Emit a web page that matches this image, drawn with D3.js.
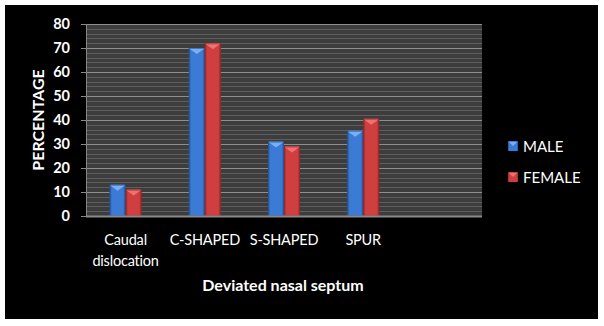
<!DOCTYPE html>
<html><head><meta charset="utf-8">
<script src="https://cdn.jsdelivr.net/npm/d3@7/dist/d3.min.js"></script>
<style>html,body{margin:0;padding:0;background:#fff;}svg{display:block;}</style>
</head><body>
<script>
const categories = ["Caudal\ndislocation", "C-SHAPED", "S-SHAPED", "SPUR", ""];
const seriesNames = ["MALE", "FEMALE"];
const maleValues = [13, 70, 31, 35.5, null];
const femaleValues = [11, 72, 29, 40.5, null];
const yTicks = [0, 10, 20, 30, 40, 50, 60, 70, 80];
const yTitle = "PERCENTAGE";
const xTitle = "Deviated nasal septum";

const W = 604, H = 326;
const svg = d3.select("body").append("svg").attr("width", W).attr("height", H);
const defs = svg.append("defs");

const palette = {
  MALE: {edge: "#24549a", body: "#3b7bd6", light: "#7ab0f2"},
  FEMALE: {edge: "#962626", body: "#cf3f3f", light: "#ee7272"}
};
Object.entries(palette).forEach(([k, c]) => {
  const g = defs.append("linearGradient").attr("id", "g" + k).attr("x1", 0).attr("x2", 1).attr("y1", 0).attr("y2", 0);
  g.append("stop").attr("offset", 0).attr("stop-color", c.edge);
  g.append("stop").attr("offset", 0.15).attr("stop-color", c.body);
  g.append("stop").attr("offset", 0.85).attr("stop-color", c.body);
  g.append("stop").attr("offset", 1).attr("stop-color", c.edge);
});

svg.append("rect").attr("x", 5).attr("y", 5).attr("width", 593).attr("height", 314).attr("fill", "#000");

const plot = {left: 86, right: 482, top: 24, bottom: 216};
const y = d3.scaleLinear().domain([0, 80]).range([plot.bottom, plot.top]);
const x0 = d3.scaleBand().domain(categories).range([plot.left, plot.right]).padding(0);
const barW = 16;
const x1 = d3.scaleBand().domain(seriesNames)
  .range([x0.bandwidth() / 2 - barW, x0.bandwidth() / 2 + barW]).padding(0);

// plot background
svg.append("rect").attr("x", plot.left).attr("y", plot.top)
  .attr("width", plot.right - plot.left).attr("height", plot.bottom - plot.top).attr("fill", "#3d3d3d");

// minor gridlines
const minor = d3.range(0, 81, 2).filter(v => v % 10 !== 0);
svg.append("g").selectAll("line").data(minor).join("line")
  .attr("x1", plot.left).attr("x2", plot.right)
  .attr("y1", d => Math.round(y(d)) + 0.5).attr("y2", d => Math.round(y(d)) + 0.5)
  .attr("stroke", "#5e5e5e").attr("stroke-width", 1);
// major gridlines
svg.append("g").selectAll("line").data(yTicks.filter(v => v > 0)).join("line")
  .attr("x1", plot.left).attr("x2", plot.right)
  .attr("y1", d => Math.round(y(d)) + 0.5).attr("y2", d => Math.round(y(d)) + 0.5)
  .attr("stroke", "#8e8e8e").attr("stroke-width", 1);

// y axis
const yAxis = svg.append("g").attr("transform", `translate(${plot.left},0)`)
  .call(d3.axisLeft(y).tickValues(yTicks).tickSize(5).tickPadding(11));
yAxis.select(".domain").attr("stroke", "#868686");
yAxis.selectAll(".tick line").attr("stroke", "#868686");
yAxis.selectAll(".tick text").attr("fill", "#fff").attr("font-family", "Lato")
  .attr("font-size", 14.5).attr("font-weight", "bold");

// bars
const data = categories.map((c, i) => ({cat: c, vals: [maleValues[i], femaleValues[i]]}));
const groups = svg.append("g").selectAll("g").data(data).join("g")
  .attr("transform", d => `translate(${x0(d.cat)},0)`);
groups.each(function (d) {
  const g = d3.select(this);
  seriesNames.forEach((s, j) => {
    const v = d.vals[j];
    if (v == null) return;
    const bx = x1(s), bw = x1.bandwidth(), top = y(v), bot = y(0);
    const c = palette[s];
    g.append("rect").attr("x", bx).attr("y", top).attr("width", bw).attr("height", bot - top)
      .attr("fill", `url(#g${s})`);
    g.append("polygon")
      .attr("points", [[bx + 1, top + 1], [bx + bw - 1, top + 1], [bx + bw / 2, top + 6]].map(p => p.join(",")).join(" "))
      .attr("fill", c.light);
    g.append("rect").attr("x", bx + 1).attr("y", top).attr("width", bw - 2).attr("height", 1.2).attr("fill", c.light);
    g.append("rect").attr("x", bx + 0.5).attr("y", top + 0.5).attr("width", bw - 1).attr("height", bot - top - 1)
      .attr("fill", "none").attr("stroke", c.edge).attr("stroke-opacity", 0.6);
  });
});

// x axis line
svg.append("line").attr("x1", plot.left).attr("x2", plot.right)
  .attr("y1", plot.bottom + 0.5).attr("y2", plot.bottom + 0.5).attr("stroke", "#8a8a8a").attr("stroke-width", 2);

// category labels
svg.append("g").selectAll("text").data(categories).join("text")
  .attr("x", d => x0(d) + x0.bandwidth() / 2).attr("y", 245)
  .attr("text-anchor", "middle").attr("fill", "#fff").attr("font-family", "Lato").attr("font-size", 14.5)
  .attr("letter-spacing", -0.2)
  .each(function (d) {
    d.split("\n").forEach((line, i) => {
      d3.select(this).append("tspan").attr("x", x0(d) + x0.bandwidth() / 2)
        .attr("dy", i === 0 ? 0 : 21).text(line);
    });
  });

// axis titles
svg.append("text").attr("transform", `translate(44,${(plot.top + plot.bottom) / 2}) rotate(-90)`)
  .attr("text-anchor", "middle").attr("fill", "#fff").attr("font-family", "Lato")
  .attr("font-size", 16).attr("font-weight", "bold").text(yTitle);
svg.append("text").attr("x", (plot.left + plot.right) / 2 - 1).attr("y", 291)
  .attr("text-anchor", "middle").attr("fill", "#fff").attr("font-family", "Lato")
  .attr("font-size", 16).attr("font-weight", "bold").text(xTitle);

// legend
const legend = svg.append("g").selectAll("g").data(seriesNames).join("g")
  .attr("transform", (d, i) => `translate(508,${141 + i * 31})`);
legend.append("rect").attr("width", 10).attr("height", 10).attr("fill", d => `url(#g${d})`);
legend.append("polygon").attr("points", "1,1 9,1 5,5").attr("fill", d => palette[d].light);
legend.append("text").attr("x", 15).attr("y", 10.5).attr("fill", "#fff")
  .attr("font-family", "Lato").attr("font-size", 15).text(d => d);
</script>
</body></html>
